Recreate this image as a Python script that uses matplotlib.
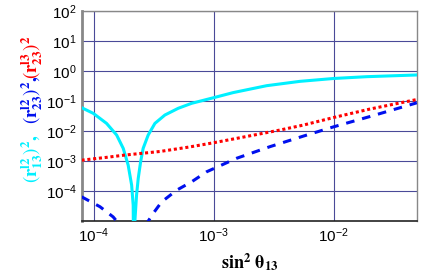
import matplotlib
matplotlib.use("Agg")
import matplotlib.pyplot as plt
import numpy as np

plt.rcParams["mathtext.fontset"] = "stix"
plt.rcParams["font.family"] = ["Liberation Sans", "DejaVu Sans"]

# values as log10(x), log10(y)
cyan_logx = [-4.10, -4.003, -3.892, -3.808, -3.753, -3.712, -3.683, -3.67, -3.663,
             -3.656, -3.642, -3.628, -3.608, -3.587, -3.545, -3.489, -3.406, -3.295,
             -3.183, -3.0, -2.837, -2.558, -2.28, -2.0, -1.725, -1.308]
cyan_logy = [-1.222, -1.41, -1.745, -2.133, -2.577, -3.133, -3.80, -4.47, -8.0,
             -5.0, -4.133, -3.577, -3.02, -2.577, -2.133, -1.745, -1.467, -1.243,
             -1.077, -0.89, -0.72, -0.49, -0.345, -0.25, -0.19, -0.133]

red_logx = [-4.10, -3.90, -3.739, -3.446, -3.20, -3.0, -2.75, -2.447, -2.25, -2.0, -1.70, -1.306]
red_logy = [-2.97, -2.88, -2.80, -2.68, -2.53, -2.39, -2.20, -1.967, -1.80, -1.55, -1.27, -0.95]

blue_logx = [-4.10, -3.947, -3.837, -3.808, -3.75, -3.67, -3.59, -3.545, -3.503, -3.433,
             -3.308, -3.183, -3.058, -2.81, -2.53, -2.253, -2.0, -1.70, -1.306]
blue_logy = [-4.19, -4.52, -4.86, -5.0, -5.4, -7.0, -5.4, -5.0, -4.74, -4.36,
             -3.97, -3.69, -3.357, -2.91, -2.52, -2.17, -1.86, -1.52, -1.06]

fig = plt.figure(figsize=(4.36, 2.73), dpi=100)
ax = fig.add_axes([0.188, 0.190, 0.768, 0.770])

ax.plot(10 ** np.array(cyan_logx), 10 ** np.array(cyan_logy), color="#00f0ff", lw=2.2,
        solid_joinstyle="round", zorder=3)
ax.plot(10 ** np.array(red_logx), 10 ** np.array(red_logy), color="#ff0000", lw=2.2,
        linestyle=(0, (1, 0.9)), zorder=3)
ax.plot(10 ** np.array(blue_logx), 10 ** np.array(blue_logy), color="#0010ee", lw=2.2,
        linestyle=(0, (2.8, 2.6)), zorder=3)

ax.set_xscale("log")
ax.set_yscale("log")
ax.set_xlim(8e-5, 0.0494)
ax.set_ylim(1e-5, 1e2)
ax.set_xticks([1e-4, 1e-3, 1e-2])
ax.set_yticks([1e-4, 1e-3, 1e-2, 1e-1, 1e0, 1e1, 1e2])
ax.minorticks_off()
ax.tick_params(length=0, labelsize=11, pad=4)
ax.grid(True, color="#4a4a98", lw=0.8)
for s in ["top", "right"]:
    ax.spines[s].set_color("#888888")
    ax.spines[s].set_linewidth(1.0)
ax.spines["left"].set_color("#888888")
ax.spines["left"].set_linewidth(2.0)
ax.spines["bottom"].set_color("#222222")
ax.spines["bottom"].set_linewidth(1.2)

ax.set_xlabel(r"$\mathbf{sin}^{\mathbf{2}}\ \mathbf{\theta}_{\mathbf{13}}$", fontsize=13, labelpad=4)

fig.text(0.073, 0.42, r"$(\mathbf{r}^{\mathbf{l2}}_{\mathbf{13}})^{\mathbf{2}}\mathbf{,}$",
         rotation=90, color="#00f0ff", fontsize=13.5, ha="center", va="center")
fig.text(0.073, 0.635, r"$(\mathbf{r}^{\mathbf{l2}}_{\mathbf{23}})^{\mathbf{2}}\mathbf{,}$",
         rotation=90, color="#0010ee", fontsize=13.5, ha="center", va="center")
fig.text(0.073, 0.79, r"$(\mathbf{r}^{\mathbf{l3}}_{\mathbf{23}})^{\mathbf{2}}$",
         rotation=90, color="#ff0000", fontsize=13.5, ha="center", va="center")

fig.savefig("out.png", dpi=100)
